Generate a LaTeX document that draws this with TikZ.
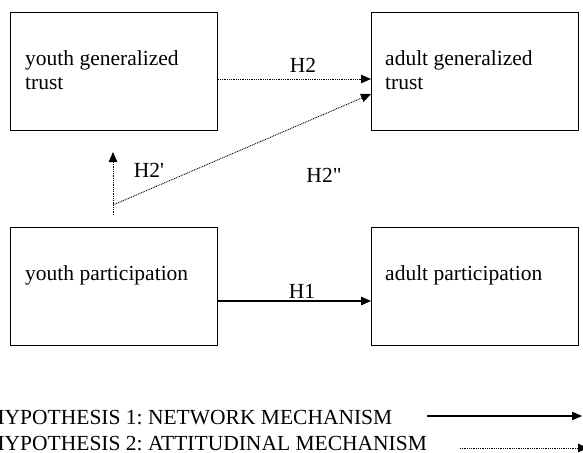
\documentclass[tikz,border=0pt]{standalone}
\usepackage{fontspec}
\setmainfont{Liberation Serif}
\usetikzlibrary{arrows.meta}
\frenchspacing
\begin{document}
\begin{tikzpicture}[x=1pt,y=-1pt,
  every node/.style={font=\fontsize{21.5}{24}\selectfont, inner sep=0pt},
  boxnode/.style={draw, line width=1.2pt, rectangle, minimum width=207pt, minimum height=118pt, anchor=north west},
  boxtext/.style={anchor=north west, align=left},
  solidarrow/.style={line width=1.2pt, -{Triangle[length=10pt,width=8.5pt]}},
  dotarrow/.style={line width=0.9pt, dash pattern=on 0.9pt off 0.9pt, -{Triangle[length=10pt,width=8.5pt]}},
  lbl/.style={anchor=base}]
\useasboundingbox (0,0) rectangle (583,452);
% boxes
\node[boxnode] (ygt) at (10,12) {};
\node[boxnode] (agt) at (371,12) {};
\node[boxnode] (yp) at (10,227) {};
\node[boxnode] (ap) at (371,227) {};
% box texts
\node[boxtext] (ygtt) at ([shift={(15,38)}]ygt.north west) {youth generalized\\trust};
\node[boxtext] (agtt) at ([shift={(14,38)}]agt.north west) {adult generalized\\trust};
\node[boxtext] (ypt) at ([shift={(15,38)}]yp.north west) {youth participation};
\node[boxtext] (apt) at ([shift={(14,38)}]ap.north west) {adult participation};
% connectors
\draw[dotarrow] (ygt.east |- 0,79) -- (agt.west |- 0,79);
\draw[solidarrow] (yp.east |- 0,301) -- (ap.west |- 0,301);
\coordinate (vbot) at (113,215);
\coordinate (vtop) at (113,152);
\coordinate (dstart) at (113,205);
\draw[dotarrow] (vbot) -- (vtop);
\draw[dotarrow] (dstart) -- (agt.west |- 0,94);
% labels
\node[lbl] (h2) at (303,72) {H2};
\node[lbl] (h1) at (302,298) {H1};
\node[lbl] (h2p) at (149,177) {H2\textquotesingle};
\node[lbl] (h2pp) at (324,182) {H2\textquotedbl};
% legend
\node[anchor=base west] (leg1) at (-11,424) {HYPOTHESIS 1: NETWORK MECHANISM};
\node[anchor=base west] (leg2) at (-11,450) {HYPOTHESIS 2: ATTITUDINAL MECHANISM};
\coordinate (l1a) at (427,416);
\coordinate (l1b) at (582,416);
\coordinate (l2a) at (460,448);
\coordinate (l2b) at (588,448);
\draw[solidarrow] (l1a) -- (l1b);
\draw[dotarrow] (l2a) -- (l2b);
\end{tikzpicture}
\end{document}
